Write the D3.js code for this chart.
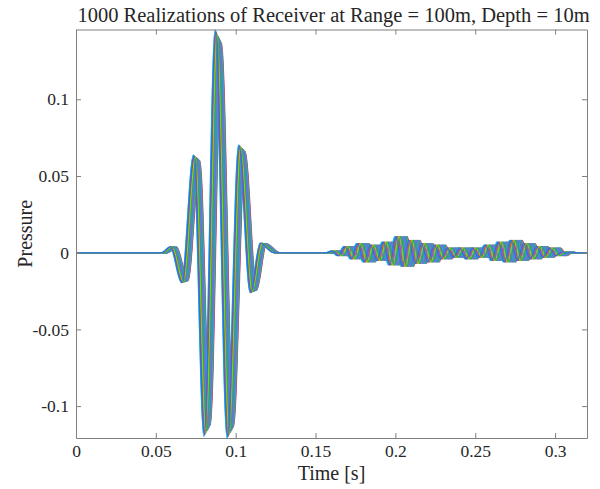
<!DOCTYPE html>
<html>
<head>
<meta charset="utf-8">
<script src="https://cdn.jsdelivr.net/npm/d3@7"></script>
<style>
  body { margin: 0; background: #fff; }
  text { font-family: "Liberation Serif", "Times New Roman", Times, "DejaVu Serif", serif; fill: #262626; }
</style>
</head>
<body>
<svg id="chart" width="600" height="489"></svg>
<script>
// direct arrival, extremes (time in s, pressure)
var pulseTime = [0.0535, 0.0589, 0.0660, 0.0735, 0.0800, 0.0870, 0.0945, 0.1017, 0.1090, 0.1152, 0.1235]
var pulsePressure = [0, 0.0039, -0.0195, 0.0637, -0.1197, 0.1455, -0.1208, 0.0702, -0.0260, 0.0062, 0]

// later multipath arrivals (the low "band" after 0.15 s)
var codaTime = [0.1560, 0.1595, 0.1635, 0.1675, 0.1715, 0.1755, 0.1795, 0.1835, 0.1875, 0.1915, 0.1955,
   0.1995, 0.2035, 0.2075, 0.2115, 0.2155, 0.2195, 0.2235, 0.2275, 0.2315, 0.2355, 0.2395, 0.2435,
   0.2475, 0.2515, 0.2555, 0.2595, 0.2635, 0.2675, 0.2715, 0.2755, 0.2795, 0.2835, 0.2875, 0.2915,
   0.2955, 0.2995, 0.3035, 0.3060]
var codaPressure = [0, 0.001, -0.002, 0.004, -0.004, 0.006, -0.006, 0.005, -0.005, 0.007, -0.008,
   0.0105, -0.009, 0.008, -0.007, 0.006, -0.006, 0.005, -0.004, 0.003, -0.003, 0.003, -0.004,
   0.003, -0.003, 0.005, -0.005, 0.007, -0.006, 0.008, -0.005, 0.006, -0.004, 0.004, -0.003,
   0.003, -0.002, 0.0005, 0]

// per realization: arrival delay (ms) for direct / multipath, and amplitude
var directShift = [0.0, 2.1, 3.6, 0.8, 1.5, 4.0, 2.7, 0.3, 3.1, 1.2, 2.4, 3.9, 0.6, 1.8, 3.3,
   2.9, 0.1, 4.2, 1.0, 2.2, 3.5, 0.5, 1.6, 2.6, 3.8, 0.9, 1.4, 3.0, 2.0, 0.4]
var codaShift = [0.0, 4.7, 7.0, 1.7, 3.0, 7.7, 5.4, 0.6, 6.1, 2.5, 4.1, 7.2, 1.2, 3.6, 6.4,
   5.8, 0.3, 8.0, 2.1, 4.4, 6.7, 1.0, 3.3, 5.2, 7.4, 1.8, 2.8, 6.0, 3.9, 0.8]
var gain = [1.0, 0.97, 0.95, 0.99, 0.98, 0.94, 0.96, 1.0, 0.95, 0.98, 0.97, 0.94, 0.99, 0.97, 0.95,
   0.96, 1.0, 0.94, 0.98, 0.97, 0.95, 0.99, 0.98, 0.96, 0.94, 0.99, 0.98, 0.96, 0.97, 0.99]

var colors = ["#2f6cf5", "#19b34f", "#8a5cf0", "#9ad40f", "#e8394a", "#13b8c7", "#3f8cff", "#5fc02a"]

var xLim = [0, 0.32]
var yLim = [-0.1208, 0.1455]
var xTicks = [0, 0.05, 0.1, 0.15, 0.2, 0.25, 0.3]
var xTickLabels = ["0", "0.05", "0.1", "0.15", "0.2", "0.25", "0.3"]
var yTicks = [-0.1, -0.05, 0, 0.05, 0.1]
var yTickLabels = ["-0.1", "-0.05", "0", "0.05", "0.1"]

var serif = '"Liberation Serif", "Times New Roman", Times, "DejaVu Serif", serif'

var margin = {top: 29.5, right: 13, bottom: 51, left: 76}
var width = 600 - margin.left - margin.right
var height = 489 - margin.top - margin.bottom

var svg = d3.select("#chart")
var chart = svg.append("g")
   .attr("transform", "translate(" + margin.left + "," + margin.top + ")")

var xScale = d3.scaleLinear().domain(xLim).range([0, width])
var yScale = d3.scaleLinear().domain(yLim).range([height, 0])

chart.append("clipPath").attr("id", "plot-clip")
   .append("rect").attr("width", width).attr("height", height)

var line = d3.line()
   .x(d => xScale(d[0]))
   .y(d => yScale(d[1]))
   .curve(d3.curveMonotoneX)

var realizations = directShift.map(function(s, i) {
   var pts = [[0, 0]]
   pulseTime.forEach((t, j) => pts.push([t + s / 1000, pulsePressure[j] * gain[i]]))
   codaTime.forEach((t, j) => pts.push([t + codaShift[i] / 1000, codaPressure[j]]))
   pts.push([xLim[1], 0])
   return pts
})

var n = realizations.length
chart.append("g")
   .attr("clip-path", "url(#plot-clip)")
   .selectAll("path")
   .data(realizations)
   .join("path")
   .attr("d", line)
   .attr("fill", "none")
   .attr("stroke", (d, i) => colors[(n - 1 - i) % colors.length])
   .attr("stroke-width", 1.1)
   .attr("stroke-opacity", 0.9)

// axes, MATLAB style box with inward ticks
function styleAxis(g) {
   g.attr("font-family", null).attr("font-size", null)
   g.selectAll(".domain").attr("stroke", "#808080")
   g.selectAll(".tick line").attr("stroke", "#808080")
   g.selectAll(".tick text")
      .style("font-family", serif)
      .style("font-size", "17.5px")
      .attr("fill", "#262626")
}

chart.append("g")
   .attr("transform", "translate(0," + height + ")")
   .call(d3.axisBottom(xScale).tickValues(xTicks).tickFormat((d, i) => xTickLabels[i])
      .tickSizeInner(-5).tickSizeOuter(0).tickPadding(7))
   .call(styleAxis)

chart.append("g")
   .call(d3.axisTop(xScale).tickValues(xTicks).tickFormat("")
      .tickSizeInner(-5).tickSizeOuter(0))
   .call(styleAxis)

chart.append("g")
   .call(d3.axisLeft(yScale).tickValues(yTicks).tickFormat((d, i) => yTickLabels[i])
      .tickSizeInner(-5).tickSizeOuter(0).tickPadding(7))
   .call(styleAxis)

chart.append("g")
   .attr("transform", "translate(" + width + ",0)")
   .call(d3.axisRight(yScale).tickValues(yTicks).tickFormat("")
      .tickSizeInner(-5).tickSizeOuter(0))
   .call(styleAxis)

// title and labels
svg.append("text")
   .attr("x", margin.left + width / 2 + 2)
   .attr("y", 22)
   .attr("text-anchor", "middle")
   .style("font-family", serif)
   .style("font-size", "20.5px")
   .text("1000 Realizations of Receiver at Range = 100m, Depth = 10m")

svg.append("text")
   .attr("x", margin.left + width / 2)
   .attr("y", 480)
   .attr("text-anchor", "middle")
   .style("font-family", serif)
   .style("font-size", "20px")
   .text("Time [s]")

svg.append("text")
   .attr("transform", "translate(32," + (margin.top + height / 2) + ") rotate(-90)")
   .attr("text-anchor", "middle")
   .style("font-family", serif)
   .style("font-size", "20px")
   .text("Pressure")
</script>
</body>
</html>
